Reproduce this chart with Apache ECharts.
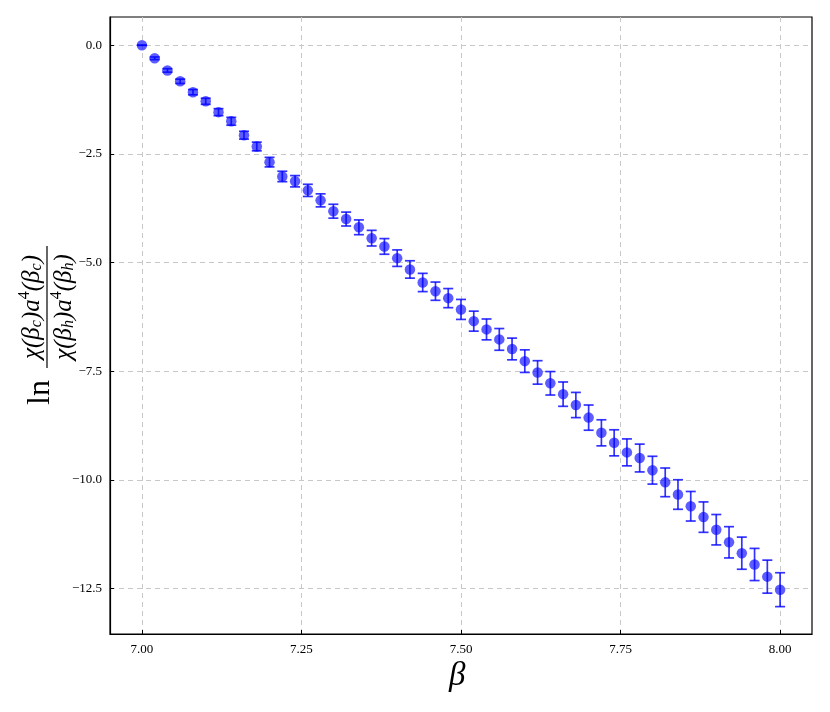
<!DOCTYPE html>
<html><head><meta charset="utf-8">
<script src="https://cdn.jsdelivr.net/npm/echarts@6/dist/echarts.min.js"></script>
<style>html,body{margin:0;padding:0;background:#fff}#c{width:830px;height:712px}</style>
</head><body><div id="c"></div>
<script>
const betaValues = [7.00,7.02,7.04,7.06,7.08,7.10,7.12,7.14,7.16,7.18,7.20,7.22,7.24,7.26,7.28,7.30,7.32,7.34,7.36,7.38,7.40,7.42,7.44,7.46,7.48,7.50,7.52,7.54,7.56,7.58,7.60,7.62,7.64,7.66,7.68,7.70,7.72,7.74,7.76,7.78,7.80,7.82,7.84,7.86,7.88,7.90,7.92,7.94,7.96,7.98,8.00];
const lnRatio = [0.00,-0.30,-0.58,-0.83,-1.08,-1.29,-1.54,-1.75,-2.07,-2.33,-2.69,-3.02,-3.13,-3.34,-3.57,-3.82,-4.00,-4.19,-4.44,-4.63,-4.90,-5.16,-5.46,-5.66,-5.82,-6.08,-6.35,-6.54,-6.77,-6.99,-7.27,-7.53,-7.78,-8.03,-8.28,-8.57,-8.92,-9.15,-9.37,-9.50,-9.78,-10.06,-10.34,-10.61,-10.86,-11.15,-11.44,-11.69,-11.95,-12.23,-12.53];
const lnRatioErr = [0.00,0.03,0.04,0.05,0.06,0.07,0.08,0.09,0.09,0.10,0.11,0.12,0.13,0.14,0.15,0.16,0.16,0.17,0.18,0.18,0.19,0.20,0.21,0.21,0.22,0.23,0.23,0.24,0.25,0.25,0.26,0.27,0.27,0.28,0.29,0.29,0.30,0.30,0.31,0.32,0.32,0.33,0.34,0.34,0.35,0.35,0.36,0.37,0.37,0.38,0.39];
const xTicks = [7.00,7.25,7.50,7.75,8.00];
const yTicks = [0,-2.5,-5.0,-7.5,-10.0,-12.5];

const blue = 'rgba(0,0,255,0.8)';
const serif = '"Liberation Serif","DejaVu Serif",serif';
const chart = echarts.init(document.getElementById('c'), null, {renderer:'canvas'});

const points = betaValues.map((b,i)=>[b, lnRatio[i]]);
const errs = betaValues.map((b,i)=>[b, lnRatio[i]-lnRatioErr[i], lnRatio[i]+lnRatioErr[i]]);

function fmtNum(v, d){ const s = Math.abs(v).toFixed(d); return (v < -1e-9 ? '\u2212' : '') + s; }

const gridLine = {show:true, lineStyle:{color:'#c8c8c8', type:[5,4], width:1}};
const fracRich = {
  m:{fontFamily:serif, fontStyle:'italic', fontSize:25, lineHeight:28, verticalAlign:'bottom'},
  s:{fontFamily:serif, fontStyle:'italic', fontSize:16, lineHeight:26, verticalAlign:'bottom'},
  p:{fontFamily:serif, fontSize:16, lineHeight:28, verticalAlign:'top'}
};

const option = {
  animation:false,
  grid:{left:110, right:18, top:17, bottom:78, show:true, borderColor:'#000', borderWidth:1.2, backgroundColor:'transparent'},
  xAxis:{type:'value', min:6.95, max:8.05,
    axisLine:{show:true, onZero:false, lineStyle:{color:'#000', width:1.2}},
    axisTick:{show:true, inside:true, length:4, customValues:xTicks, lineStyle:{color:'#000'}},
    axisLabel:{customValues:xTicks, formatter:v=>fmtNum(v,2), color:'#000', fontFamily:serif, fontSize:13, margin:9},
    splitLine:gridLine},
  yAxis:{type:'value', min:-13.55, max:0.65,
    axisLine:{show:true, onZero:false, lineStyle:{color:'#000', width:1.2}},
    axisTick:{show:true, inside:true, length:4, customValues:yTicks, lineStyle:{color:'#000'}},
    axisLabel:{customValues:yTicks, formatter:v=>fmtNum(v,1), color:'#000', fontFamily:serif, fontSize:13, margin:8},
    splitLine:gridLine},
  graphic:[
    {type:'text', left:449, top:660, style:{text:'β', font:'italic 33px '+serif, fill:'#000'}},
    {type:'group', x:0, y:0, children:[
      {type:'text', x:57, y:405, rotation:Math.PI/2, style:{text:'ln', font:'32px '+serif, fill:'#000', textAlign:'left', textVerticalAlign:'bottom'}},
      {type:'text', x:45, y:307, rotation:Math.PI/2, style:{
        text:'{m|χ(β}{s|c}{m|)a}{p|4}{m|(β}{s|c}{m|)}', textAlign:'center', textVerticalAlign:'bottom', fill:'#000', rich:fracRich}},
      {type:'line', shape:{x1:47, y1:246, x2:47, y2:368}, style:{stroke:'#000', lineWidth:1.2}},
      {type:'text', x:49, y:307, rotation:Math.PI/2, style:{
        text:'{m|χ(β}{s|h}{m|)a}{p|4}{m|(β}{s|h}{m|)}', textAlign:'center', textVerticalAlign:'top', fill:'#000', rich:fracRich}}
    ]}
  ],
  series:[
    {type:'custom', data:errs, z:2, clip:false,
      renderItem:function(params, api){
        const x = api.value(0);
        const lo = api.coord([x, api.value(1)]);
        const hi = api.coord([x, api.value(2)]);
        const hw = 5;
        const st = {stroke:blue, lineWidth:1.7};
        return {type:'group', children:[
          {type:'line', shape:{x1:lo[0], y1:lo[1], x2:hi[0], y2:hi[1]}, style:st},
          {type:'line', shape:{x1:lo[0]-hw, y1:lo[1], x2:lo[0]+hw, y2:lo[1]}, style:st},
          {type:'line', shape:{x1:hi[0]-hw, y1:hi[1], x2:hi[0]+hw, y2:hi[1]}, style:st}
        ]};
      }},
    {type:'scatter', data:points, symbol:'circle', symbolSize:10.5, z:3,
      itemStyle:{color:blue, borderWidth:0}}
  ]
};
chart.setOption(option);
</script></body></html>
